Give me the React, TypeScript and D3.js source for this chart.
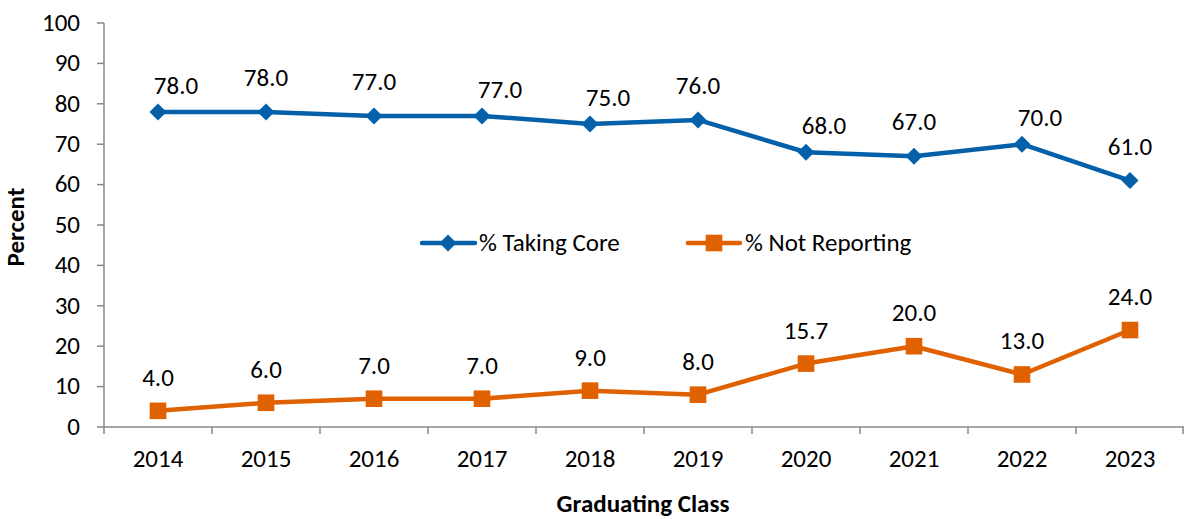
import React from "react";
import * as d3 from "d3";

const years = ["2014","2015","2016","2017","2018","2019","2020","2021","2022","2023"];
const takingCore = [78.0,78.0,77.0,77.0,75.0,76.0,68.0,67.0,70.0,61.0];
const notReporting = [4.0,6.0,7.0,7.0,9.0,8.0,15.7,20.0,13.0,24.0];
// label placement for % Taking Core: "c" = centred above, "r" = above, shifted right
const coreLabelPlace = ["r","c","c","r","r","c","r","c","r","c"];
const yTicks = [0,10,20,30,40,50,60,70,80,90,100];

const W = 1184, H = 519;
const left = 104, right = 1184, top = 23, bottom = 427;
const BLUE = "#0360A9";
const ORANGE = "#E06100";
const AXIS = "#898989";
const FONT = "Carlito, Calibri, Lato, 'Open Sans', sans-serif";
const FS = 25;

export default function App() {
  const x = d3.scaleBand<string>().domain(years).range([left, right]);
  const y = d3.scaleLinear().domain([0, 100]).range([bottom, top]);
  const cx = (d: string) => (x(d) ?? 0) + x.bandwidth() / 2;
  const line = d3.line<number>().x((_, i) => cx(years[i])).y((v) => y(v));
  const diamond = (px: number, py: number, r: number) =>
    `M${px},${py - r}L${px + r},${py}L${px},${py + r}L${px - r},${py}Z`;

  return (
    <svg width={W} height={H} style={{ position: "absolute", left: 0, top: 0, background: "#fff" }} fontFamily={FONT}>
      {/* y axis */}
      <line x1={left} x2={left} y1={top} y2={bottom} stroke={AXIS} strokeWidth={1.5} />
      {yTicks.map((t) => (
        <g key={t}>
          <line x1={left - 7} x2={left} y1={y(t)} y2={y(t)} stroke={AXIS} strokeWidth={1.5} />
          <text x={80} y={y(t) + 7.8} textAnchor="end" fontSize={FS} fill="#000">{t}</text>
        </g>
      ))}
      {/* x axis */}
      <line x1={left} x2={right} y1={bottom} y2={bottom} stroke={AXIS} strokeWidth={1.5} />
      {years.concat(["end"]).map((d, i) => {
        const px = Math.min(left + i * x.bandwidth(), right - 1);
        return <line key={d} x1={px} x2={px} y1={bottom} y2={bottom + 7} stroke={AXIS} strokeWidth={1.5} />;
      })}
      {years.map((d) => (
        <text key={d} x={cx(d)} y={467} textAnchor="middle" fontSize={FS} fill="#000">{d}</text>
      ))}
      {/* titles */}
      <text x={643} y={512} textAnchor="middle" fontSize={FS} fontWeight="bold">Graduating Class</text>
      <text transform={`translate(24,227) rotate(-90)`} textAnchor="middle" fontSize={FS} fontWeight="bold">Percent</text>

      {/* series */}
      <path d={line(takingCore) ?? ""} fill="none" stroke={BLUE} strokeWidth={4.5} strokeLinejoin="round" />
      <path d={line(notReporting) ?? ""} fill="none" stroke={ORANGE} strokeWidth={4.5} strokeLinejoin="round" />
      {takingCore.map((v, i) => {
        const r = coreLabelPlace[i] === "r";
        return (
          <g key={"b" + i}>
            <path d={diamond(cx(years[i]), y(v), 8.5)} fill={BLUE} />
            <text x={cx(years[i]) + (r ? 18 : 0)} y={y(v) - (r ? 18 : 26)} textAnchor="middle" fontSize={FS}>{v.toFixed(1)}</text>
          </g>
        );
      })}
      {notReporting.map((v, i) => (
        <g key={"o" + i}>
          <rect x={cx(years[i]) - 8.3} y={y(v) - 8.3} width={16.6} height={16.6} fill={ORANGE} />
          <text x={cx(years[i])} y={y(v) - 25} textAnchor="middle" fontSize={FS}>{v.toFixed(1)}</text>
        </g>
      ))}

      {/* legend */}
      <g>
        <line x1={422} x2={475} y1={243} y2={243} stroke={BLUE} strokeWidth={4.5} strokeLinecap="round" />
        <path d={diamond(448, 243, 8.5)} fill={BLUE} />
        <text x={479} y={251} fontSize={FS}>% Taking Core</text>
        <line x1={688} x2={740} y1={243} y2={243} stroke={ORANGE} strokeWidth={4.5} strokeLinecap="round" />
        <rect x={705.7} y={234.7} width={16.6} height={16.6} fill={ORANGE} />
        <text x={745} y={251} fontSize={FS}>% Not Reporting</text>
      </g>
    </svg>
  );
}
